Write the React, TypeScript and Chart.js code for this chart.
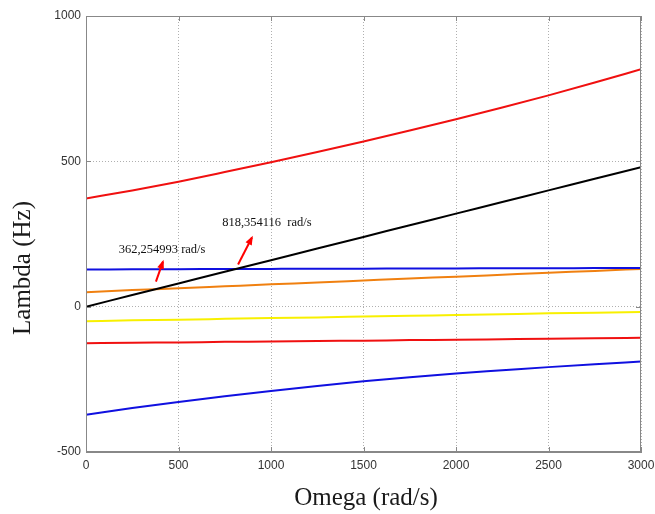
import React, { useEffect, useRef } from "react";
import { Chart, registerables } from "chart.js";

Chart.register(...registerables);

const omega = [0, 250, 500, 750, 1000, 1250, 1500, 1750, 2000, 2250, 2500, 2750, 3000];
const redTop = [372, 400, 430, 463, 497, 532, 568, 606, 645, 685, 727, 771, 817];
const black = [0, 40, 80, 120, 160, 200, 240, 280, 320, 360, 400, 440, 480];
const blueTop = [128, 128.5, 129, 129.5, 130, 130.4, 130.8, 131.2, 131.6, 132, 132.4, 132.7, 133];
const orange = [50, 57, 63, 70, 77, 83, 90, 97, 103, 110, 117, 123, 130];
const yellow = [-50, -47, -45, -42, -39, -37, -34, -31, -29, -26, -23, -21, -18];
const redBottom = [-126, -124, -123, -121, -120, -118, -117, -115, -114, -112, -110, -109, -107];
const blueBottom = [-372, -349, -328, -308, -290, -273, -257, -243, -230, -219, -208, -198, -189];

const xTitle = "Omega (rad/s)";
const yTitle = "Lambda (Hz)";

const notes = [
  { text: "362,254993 rad/s", tx: 411, ty: 197, x0: 378, y0: 86, x1: 416, y1: 155 },
  { text: "818,354116  rad/s", tx: 978, ty: 288, x0: 822, y0: 145, x1: 897, y1: 238 },
];

const series = [
  { label: "r1", data: redTop, color: "#f01010" },
  { label: "k", data: black, color: "#000000" },
  { label: "b1", data: blueTop, color: "#1010e0" },
  { label: "o", data: orange, color: "#f08010" },
  { label: "y", data: yellow, color: "#f8f000" },
  { label: "r2", data: redBottom, color: "#f01010" },
  { label: "b2", data: blueBottom, color: "#1010e0" },
];

const annotPlugin = {
  id: "annot",
  afterDatasetsDraw(chart: any) {
    const { ctx, chartArea, scales } = chart;
    const xs = scales.x;
    const ys = scales.y;
    const { left, right, top, bottom } = chartArea;
    ctx.save();
    ctx.strokeStyle = "#888";
    ctx.lineWidth = 1;
    ctx.strokeRect(left + 0.5, top + 0.5, right - left - 1, bottom - top - 1);
    ctx.beginPath();
    for (const t of xs.ticks) {
      const px = Math.round(xs.getPixelForValue(t.value)) + 0.5;
      ctx.moveTo(px, bottom);
      ctx.lineTo(px, bottom - 5);
      ctx.moveTo(px, top);
      ctx.lineTo(px, top + 5);
    }
    for (const t of ys.ticks) {
      const py = Math.round(ys.getPixelForValue(t.value)) + 0.5;
      ctx.moveTo(left, py);
      ctx.lineTo(left + 5, py);
      ctx.moveTo(right, py);
      ctx.lineTo(right - 5, py);
    }
    ctx.stroke();

    ctx.font = "12.5px 'Liberation Serif'";
    ctx.textAlign = "center";
    ctx.textBaseline = "middle";
    for (const n of notes) {
      ctx.fillStyle = "#111";
      ctx.fillText(n.text, xs.getPixelForValue(n.tx), ys.getPixelForValue(n.ty));
      const ax0 = xs.getPixelForValue(n.x0);
      const ay0 = ys.getPixelForValue(n.y0);
      const ax1 = xs.getPixelForValue(n.x1);
      const ay1 = ys.getPixelForValue(n.y1);
      ctx.strokeStyle = "#ff0000";
      ctx.fillStyle = "#ff0000";
      ctx.lineWidth = 2;
      ctx.beginPath();
      ctx.moveTo(ax0, ay0);
      ctx.lineTo(ax1, ay1);
      ctx.stroke();
      const ang = Math.atan2(ay1 - ay0, ax1 - ax0);
      const L = 8;
      ctx.beginPath();
      ctx.moveTo(ax1 + Math.cos(ang) * 2, ay1 + Math.sin(ang) * 2);
      ctx.lineTo(ax1 - L * Math.cos(ang - 0.45), ay1 - L * Math.sin(ang - 0.45));
      ctx.lineTo(ax1 - L * Math.cos(ang + 0.45), ay1 - L * Math.sin(ang + 0.45));
      ctx.closePath();
      ctx.fill();
    }

    ctx.fillStyle = "#1a1a1a";
    ctx.font = "25px 'Liberation Serif'";
    ctx.textAlign = "center";
    ctx.textBaseline = "middle";
    ctx.fillText(xTitle, 366, 498);
    ctx.save();
    ctx.translate(23, 268);
    ctx.rotate(-Math.PI / 2);
    ctx.fillText(yTitle, 0, 0);
    ctx.restore();
    ctx.restore();
  },
};

export default function App() {
  const ref = useRef<HTMLCanvasElement>(null);
  useEffect(() => {
    document.body.style.margin = "0";
    const chart = new Chart(ref.current!, {
      type: "line",
      data: {
        datasets: series.map((s) => ({
          label: s.label,
          data: omega.map((x, i) => ({ x, y: s.data[i] })),
          borderColor: s.color,
          backgroundColor: s.color,
          borderWidth: 2,
          pointRadius: 0,
          cubicInterpolationMode: "monotone" as const,
          fill: false,
        })),
      },
      options: {
        animation: false,
        responsive: false,
        maintainAspectRatio: false,
        layout: { padding: { left: 0, right: 14, top: 16, bottom: 0 } },
        plugins: { legend: { display: false }, tooltip: { enabled: false } },
        scales: {
          x: {
            type: "linear",
            min: 0,
            max: 3000,
            ticks: {
              stepSize: 500,
              color: "#333",
              font: { family: "'Liberation Sans'", size: 12 },
              padding: 6,
              maxRotation: 0,
              callback: (v: any) => String(v),
            },
            grid: { color: "#b0b0b0", tickLength: 0, drawTicks: false },
            border: { color: "#888", dash: [1, 2] },
            afterFit(scale: any) {
              scale.height = 62;
              scale.paddingRight = 0;
              scale.paddingLeft = 0;
            },
          },
          y: {
            type: "linear",
            min: -500,
            max: 1000,
            ticks: {
              stepSize: 500,
              color: "#333",
              font: { family: "'Liberation Sans'", size: 12 },
              padding: 5,
              callback: (v: any) => String(v),
            },
            grid: { color: "#b0b0b0", tickLength: 0, drawTicks: false },
            border: { color: "#888", dash: [1, 2] },
            afterFit(scale: any) { scale.width = 86; },
          },
        },
      },
      plugins: [annotPlugin],
    });
    return () => chart.destroy();
  }, []);
  return <canvas ref={ref} width={655} height={514} style={{ display: "block" }} />;
}
